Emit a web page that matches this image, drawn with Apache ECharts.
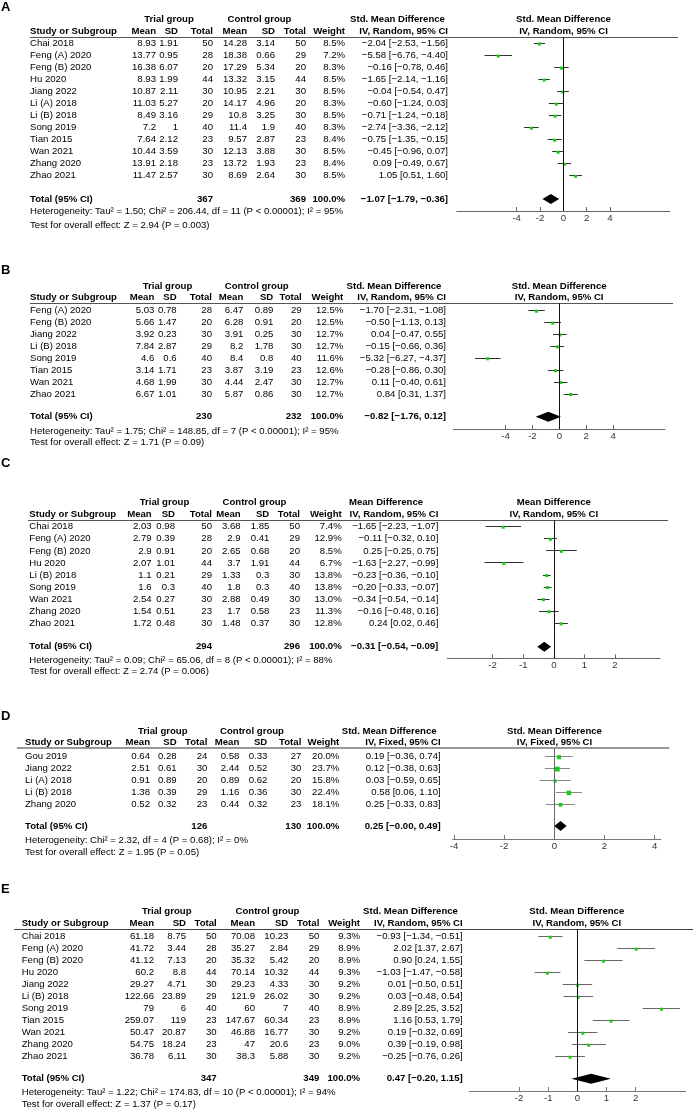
<!DOCTYPE html>
<html><head><meta charset="utf-8">
<script src="https://cdn.jsdelivr.net/npm/echarts@6/dist/echarts.min.js"></script>
<style>html,body{margin:0;padding:0;background:#fff}#c{width:695px;height:1110px}</style>
</head><body><div id="c"></div>
<script>
// ---------------- DATA ----------------
const colHeaders = ['Study or Subgroup','Mean','SD','Total','Mean','SD','Total','Weight'];
const groupHeaders = ['Trial group','Control group'];
const totalLabel = 'Total (95% CI)';

// Panel A
const A_studies = ['Chai 2018','Feng (A) 2020','Feng (B) 2020','Hu 2020','Jiang 2022','Li (A) 2018','Li (B) 2018','Song 2019','Tian 2015','Wan 2021','Zhang 2020','Zhao 2021'];
const A_trialMean = [8.93,13.77,16.38,8.93,10.87,11.03,8.49,7.2,7.64,10.44,13.91,11.47];
const A_trialSD = [1.91,0.95,6.07,1.99,2.11,5.27,3.16,1,2.12,3.59,2.18,2.57];
const A_trialN = [50,28,20,44,30,20,29,40,23,30,23,30];
const A_ctrlMean = [14.28,18.38,17.29,13.32,10.95,14.17,10.8,11.4,9.57,12.13,13.72,8.69];
const A_ctrlSD = [3.14,0.66,5.34,3.15,2.21,4.96,3.25,1.9,2.87,3.88,1.93,2.64];
const A_ctrlN = [50,29,20,44,30,20,30,40,23,30,23,30];
const A_weight = [8.5,7.2,8.3,8.5,8.5,8.3,8.5,8.3,8.4,8.5,8.4,8.5];
const A_est = [-2.04,-5.58,-0.16,-1.65,-0.04,-0.60,-0.71,-2.74,-0.75,-0.45,0.09,1.05];
const A_lo = [-2.53,-6.76,-0.78,-2.14,-0.54,-1.24,-1.24,-3.36,-1.35,-0.96,-0.49,0.51];
const A_hi = [-1.56,-4.40,0.46,-1.16,0.47,0.03,-0.18,-2.12,-0.15,0.07,0.67,1.60];
const A_totalN = [367,369];
const A_totalWeight = 100.0;
const A_totalCI = [-1.07,-1.79,-0.36];
const A_het = 'Heterogeneity: Tau² = 1.50; Chi² = 206.44, df = 11 (P < 0.00001); I² = 95%';
const A_test = 'Test for overall effect: Z = 2.94 (P = 0.003)';
const A_titles = ['Std. Mean Difference','IV, Random, 95% CI'];
const A_ticks = [-4,-2,0,2,4];

// Panel B
const B_studies = ['Feng (A) 2020','Feng (B) 2020','Jiang 2022','Li (B) 2018','Song 2019','Tian 2015','Wan 2021','Zhao 2021'];
const B_trialMean = [5.03,5.66,3.92,7.84,4.6,3.14,4.68,6.67];
const B_trialSD = [0.78,1.47,0.23,2.87,0.6,1.71,1.99,1.01];
const B_trialN = [28,20,30,29,40,23,30,30];
const B_ctrlMean = [6.47,6.28,3.91,8.2,8.4,3.87,4.44,5.87];
const B_ctrlSD = [0.89,0.91,0.25,1.78,0.8,3.19,2.47,0.86];
const B_ctrlN = [29,20,30,30,40,23,30,30];
const B_weight = [12.5,12.5,12.7,12.7,11.6,12.6,12.7,12.7];
const B_est = [-1.70,-0.50,0.04,-0.15,-5.32,-0.28,0.11,0.84];
const B_lo = [-2.31,-1.13,-0.47,-0.66,-6.27,-0.86,-0.40,0.31];
const B_hi = [-1.08,0.13,0.55,0.36,-4.37,0.30,0.61,1.37];
const B_totalN = [230,232];
const B_totalWeight = 100.0;
const B_totalCI = [-0.82,-1.76,0.12];
const B_het = 'Heterogeneity: Tau² = 1.75; Chi² = 148.85, df = 7 (P < 0.00001); I² = 95%';
const B_test = 'Test for overall effect: Z = 1.71 (P = 0.09)';
const B_titles = ['Std. Mean Difference','IV, Random, 95% CI'];
const B_ticks = [-4,-2,0,2,4];

// Panel C
const C_studies = ['Chai 2018','Feng (A) 2020','Feng (B) 2020','Hu 2020','Li (B) 2018','Song 2019','Wan 2021','Zhang 2020','Zhao 2021'];
const C_trialMean = [2.03,2.79,2.9,2.07,1.1,1.6,2.54,1.54,1.72];
const C_trialSD = [0.98,0.39,0.91,1.01,0.21,0.3,0.27,0.51,0.48];
const C_trialN = [50,28,20,44,29,40,30,23,30];
const C_ctrlMean = [3.68,2.9,2.65,3.7,1.33,1.8,2.88,1.7,1.48];
const C_ctrlSD = [1.85,0.41,0.68,1.91,0.3,0.3,0.49,0.58,0.37];
const C_ctrlN = [50,29,20,44,30,40,30,23,30];
const C_weight = [7.4,12.9,8.5,6.7,13.8,13.8,13.0,11.3,12.8];
const C_est = [-1.65,-0.11,0.25,-1.63,-0.23,-0.20,-0.34,-0.16,0.24];
const C_lo = [-2.23,-0.32,-0.25,-2.27,-0.36,-0.33,-0.54,-0.48,0.02];
const C_hi = [-1.07,0.10,0.75,-0.99,-0.10,-0.07,-0.14,0.16,0.46];
const C_totalN = [294,296];
const C_totalWeight = 100.0;
const C_totalCI = [-0.31,-0.54,-0.09];
const C_het = 'Heterogeneity: Tau² = 0.09; Chi² = 65.06, df = 8 (P < 0.00001); I² = 88%';
const C_test = 'Test for overall effect: Z = 2.74 (P = 0.006)';
const C_titles = ['Mean Difference','IV, Random, 95% CI'];
const C_ticks = [-2,-1,0,1,2];

// Panel D
const D_studies = ['Gou 2019','Jiang 2022','Li (A) 2018','Li (B) 2018','Zhang 2020'];
const D_trialMean = [0.64,2.51,0.91,1.38,0.52];
const D_trialSD = [0.28,0.61,0.89,0.39,0.32];
const D_trialN = [24,30,20,29,23];
const D_ctrlMean = [0.58,2.44,0.89,1.16,0.44];
const D_ctrlSD = [0.33,0.52,0.62,0.36,0.32];
const D_ctrlN = [27,30,20,30,23];
const D_weight = [20.0,23.7,15.8,22.4,18.1];
const D_est = [0.19,0.12,0.03,0.58,0.25];
const D_lo = [-0.36,-0.38,-0.59,0.06,-0.33];
const D_hi = [0.74,0.63,0.65,1.10,0.83];
const D_totalN = [126,130];
const D_totalWeight = 100.0;
const D_totalCI = [0.25,-0.004,0.49];
const D_het = 'Heterogeneity: Chi² = 2.32, df = 4 (P = 0.68); I² = 0%';
const D_test = 'Test for overall effect: Z = 1.95 (P = 0.05)';
const D_titles = ['Std. Mean Difference','IV, Fixed, 95% CI'];
const D_ticks = [-4,-2,0,2,4];

// Panel E
const E_studies = ['Chai 2018','Feng (A) 2020','Feng (B) 2020','Hu 2020','Jiang 2022','Li (B) 2018','Song 2019','Tian 2015','Wan 2021','Zhang 2020','Zhao 2021'];
const E_trialMean = [61.18,41.72,41.12,60.2,29.27,122.66,79,259.07,50.47,54.75,36.78];
const E_trialSD = [8.75,3.44,7.13,8.8,4.71,23.89,6,119,20.87,18.24,6.11];
const E_trialN = [50,28,20,44,30,29,40,23,30,23,30];
const E_ctrlMean = [70.08,35.27,35.32,70.14,29.23,121.9,60,147.67,46.88,47,38.3];
const E_ctrlSD = [10.23,2.84,5.42,10.32,4.33,26.02,7,60.34,16.77,20.6,5.88];
const E_ctrlN = [50,29,20,44,30,30,40,23,30,23,30];
const E_weight = [9.3,8.9,8.9,9.3,9.2,9.2,8.9,8.9,9.2,9.0,9.2];
const E_est = [-0.93,2.02,0.90,-1.03,0.01,0.03,2.89,1.16,0.19,0.39,-0.25];
const E_lo = [-1.34,1.37,0.24,-1.47,-0.50,-0.48,2.25,0.53,-0.32,-0.19,-0.76];
const E_hi = [-0.51,2.67,1.55,-0.58,0.51,0.54,3.52,1.79,0.69,0.98,0.26];
const E_totalN = [347,349];
const E_totalWeight = 100.0;
const E_totalCI = [0.47,-0.20,1.15];
const E_het = 'Heterogeneity: Tau² = 1.22; Chi² = 174.83, df = 10 (P < 0.00001); I² = 94%';
const E_test = 'Test for overall effect: Z = 1.37 (P = 0.17)';
const E_titles = ['Std. Mean Difference','IV, Random, 95% CI'];
const E_ticks = [-2,-1,0,1,2];

// ---------------- LAYOUT (positions & styles) ----------------
const FONT = '"Liberation Sans", Arial, sans-serif';
const FS = 9.6;
const TXT = '#000';
const GREEN = '#14cc14';
const LAYOUT = {
  A:{letterY:7.5,h1:19.3,h2:31.5,lineY:37,lineX1:30,lineX2:678,lineColor:'#555',lineW:1,row0:43.5,step:12.03,totalY:199,hetY:211.5,testY:225,
     cols:[30,156,178,213,247,275,306,345,448],grp:[169,259.5,397.5],plotC:563.5,axisY:211,axL:456.7,axR:670,xMin:-9.14,xMax:9.14,
     ciColor:'#333',zeroColor:'#111',axisColor:'#666',marker:()=>3},
  B:{letterY:270,h1:286,h2:297.7,lineY:303.3,lineX1:30,lineX2:673,lineColor:'#555',lineW:1,row0:310.7,step:11.9,totalY:416.7,hetY:431.7,testY:442.7,
     cols:[30,154.3,176.7,212,243.3,273.3,301.7,343.3,446],grp:[167.5,256.7,394],plotC:559.2,axisY:429,axL:453.3,axR:665,xMin:-7.88,xMax:7.85,
     ciColor:'#333',zeroColor:'#111',axisColor:'#666',marker:()=>3},
  C:{letterY:463.5,h1:502.3,h2:514.3,lineY:520,lineX1:28,lineX2:668,lineColor:'#555',lineW:1,row0:526.7,step:12.08,totalY:646.7,hetY:660,testY:671.7,
     cols:[29.3,151.7,175,212,240.7,269.3,300,341.7,438.3],grp:[164.5,254.5,386],plotC:553.8,axisY:658.3,axL:447.3,axR:660,xMin:-3.48,xMax:3.47,
     ciColor:'#333',zeroColor:'#111',axisColor:'#666',marker:()=>3},
  D:{letterY:716,h1:731,h2:742.7,lineY:748.3,lineX1:17,lineX2:669.3,lineColor:'#999',lineW:2,row0:756.7,step:11.9,totalY:826,hetY:840.7,testY:852.3,
     cols:[25,150,176.7,207.3,239.3,267.3,301.3,339.3,440.7],grp:[162.8,252,389.2],plotC:554.5,axisY:839,axL:452.7,axR:660.7,xMin:-4.05,xMax:4.24,
     ciColor:'#888',zeroColor:'#666',axisColor:'#777',marker:(w)=>w/5},
  E:{letterY:889.5,h1:911,h2:923.3,lineY:929,lineX1:14,lineX2:693,lineColor:'#444',lineW:1,row0:936.7,step:12,totalY:1078.7,hetY:1092.7,testY:1104.7,
     cols:[21.7,154,186,216.7,255,288.3,319.3,360,462.7],grp:[166.7,267.5,410.5],plotC:576.8,axisY:1091,axL:469.3,axR:685.7,xMin:-3.71,xMax:3.72,
     ciColor:'#666',zeroColor:'#111',axisColor:'#777',marker:()=>3}
};

// ---------------- BUILD ----------------
const PANELS = [
  {key:'A',studies:A_studies,tM:A_trialMean,tSD:A_trialSD,tN:A_trialN,cM:A_ctrlMean,cSD:A_ctrlSD,cN:A_ctrlN,w:A_weight,est:A_est,lo:A_lo,hi:A_hi,totN:A_totalN,totW:A_totalWeight,totCI:A_totalCI,het:A_het,test:A_test,titles:A_titles,ticks:A_ticks},
  {key:'B',studies:B_studies,tM:B_trialMean,tSD:B_trialSD,tN:B_trialN,cM:B_ctrlMean,cSD:B_ctrlSD,cN:B_ctrlN,w:B_weight,est:B_est,lo:B_lo,hi:B_hi,totN:B_totalN,totW:B_totalWeight,totCI:B_totalCI,het:B_het,test:B_test,titles:B_titles,ticks:B_ticks},
  {key:'C',studies:C_studies,tM:C_trialMean,tSD:C_trialSD,tN:C_trialN,cM:C_ctrlMean,cSD:C_ctrlSD,cN:C_ctrlN,w:C_weight,est:C_est,lo:C_lo,hi:C_hi,totN:C_totalN,totW:C_totalWeight,totCI:C_totalCI,het:C_het,test:C_test,titles:C_titles,ticks:C_ticks},
  {key:'D',studies:D_studies,tM:D_trialMean,tSD:D_trialSD,tN:D_trialN,cM:D_ctrlMean,cSD:D_ctrlSD,cN:D_ctrlN,w:D_weight,est:D_est,lo:D_lo,hi:D_hi,totN:D_totalN,totW:D_totalWeight,totCI:D_totalCI,het:D_het,test:D_test,titles:D_titles,ticks:D_ticks},
  {key:'E',studies:E_studies,tM:E_trialMean,tSD:E_trialSD,tN:E_trialN,cM:E_ctrlMean,cSD:E_ctrlSD,cN:E_ctrlN,w:E_weight,est:E_est,lo:E_lo,hi:E_hi,totN:E_totalN,totW:E_totalWeight,totCI:E_totalCI,het:E_het,test:E_test,titles:E_titles,ticks:E_ticks}
];

const MINUS = '\u2212';
const num = v => String(v).replace('-', MINUS);
const f2 = v => v.toFixed(2).replace('-', MINUS);
const ci = (e,l,h) => f2(e) + ' [' + f2(l) + ', ' + f2(h) + ']';

function tx(x, y, text, align, bold, size, color) {
  return {type:'text', x:x, y:y, silent:true,
    style:{text:text, align:align||'right', textAlign:align||'right', verticalAlign:'middle', textVerticalAlign:'middle',
      fill:color||TXT, fontSize:size||FS, fontFamily:FONT, fontWeight:bold?'bold':'normal'}};
}

const grids=[], xAxes=[], yAxes=[], series=[], graphics=[];

PANELS.forEach((p,k)=>{
  const L = LAYOUT[p.key];
  const n = p.studies.length;
  const totalRow = (L.totalY - L.row0) / L.step;
  const yMin = (L.lineY - L.row0) / L.step;
  const yMax = (L.axisY - L.row0) / L.step;
  const c = L.cols;

  grids.push({left:L.axL, top:L.lineY, width:L.axR-L.axL, height:L.axisY-L.lineY, containLabel:false, outerBoundsMode:'none', show:false});
  xAxes.push({type:'value', gridIndex:k, min:L.xMin, max:L.xMax, position:'bottom',
    axisLine:{show:true, onZero:false, lineStyle:{color:L.axisColor, width:1}},
    axisTick:{show:true, inside:true, length:4, customValues:p.ticks, lineStyle:{color:L.axisColor, width:1}},
    axisLabel:{show:true, customValues:p.ticks, margin:2, fontSize:FS, fontFamily:FONT, color:'#333', formatter:v=>String(v)},
    splitLine:{show:false}});
  yAxes.push({type:'value', gridIndex:k, inverse:true, min:yMin, max:yMax, show:false});

  // study estimates with CIs
  series.push({type:'custom', xAxisIndex:k, yAxisIndex:k, clip:false, silent:true,
    data:p.est.map((e,i)=>[e, i, p.lo[i], p.hi[i], p.w[i]]),
    encode:{x:0, y:1},
    renderItem:(params, api)=>{
      const row = api.value(1);
      const pl = api.coord([api.value(2), row]);
      const ph = api.coord([api.value(3), row]);
      const pe = api.coord([api.value(0), row]);
      const y = Math.floor(pe[1]) + 0.5;
      const s = L.marker(api.value(4));
      return {type:'group', children:[
        {type:'line', shape:{x1:pl[0], y1:y, x2:ph[0], y2:y}, style:{stroke:L.ciColor, lineWidth:1}},
        {type:'rect', shape:{x:pe[0]-s/2, y:pe[1]-s/2+0.5, width:s, height:s}, style:{fill:GREEN}}
      ]};
    },
    markLine:{silent:true, symbol:'none', label:{show:false}, animation:false,
      lineStyle:{color:L.zeroColor, width:1, type:'solid'}, data:[{xAxis:0}]}
  });

  // pooled diamond
  series.push({type:'custom', xAxisIndex:k, yAxisIndex:k, clip:false, silent:true,
    data:[[p.totCI[0], totalRow, p.totCI[1], p.totCI[2]]],
    encode:{x:0, y:1},
    renderItem:(params, api)=>{
      const row = api.value(1);
      const pl = api.coord([api.value(2), row]);
      const ph = api.coord([api.value(3), row]);
      const pe = api.coord([api.value(0), row]);
      const h = 5;
      return {type:'polygon', shape:{points:[[pl[0],pe[1]],[pe[0],pe[1]-h],[ph[0],pe[1]],[pe[0],pe[1]+h]]}, style:{fill:'#000'}};
    }
  });

  // table rows (text cells placed on the same row scale)
  const tableData = p.studies.map((s,i)=>[0,i]);
  tableData.push([0,totalRow]);
  series.push({type:'custom', xAxisIndex:k, yAxisIndex:k, clip:false, silent:true,
    data:tableData, encode:{x:0, y:1},
    renderItem:(params, api)=>{
      const i = params.dataIndex;
      const y = api.coord([0, api.value(1)])[1];
      let cells, bold=false;
      if (i < n) {
        cells = [[c[0], p.studies[i], 'left'], [c[1], num(p.tM[i])], [c[2], num(p.tSD[i])], [c[3], String(p.tN[i])],
                 [c[4], num(p.cM[i])], [c[5], num(p.cSD[i])], [c[6], String(p.cN[i])], [c[7], p.w[i].toFixed(1)+'%'],
                 [c[8], ci(p.est[i], p.lo[i], p.hi[i])]];
      } else {
        bold = true;
        cells = [[c[0], totalLabel, 'left'], [c[3], String(p.totN[0])], [c[6], String(p.totN[1])],
                 [c[7], p.totW.toFixed(1)+'%'], [c[8], ci(p.totCI[0], p.totCI[1], p.totCI[2])]];
      }
      return {type:'group', children:cells.map(cl=>tx(cl[0], y, cl[1], cl[2]||'right', bold))};
    }
  });

  // headers, panel letter, notes
  graphics.push(tx(1, L.letterY, p.key, 'left', true, 13, '#000'));
  graphics.push(tx(L.grp[0], L.h1, groupHeaders[0], 'center', true));
  graphics.push(tx(L.grp[1], L.h1, groupHeaders[1], 'center', true));
  graphics.push(tx(L.grp[2], L.h1, p.titles[0], 'center', true));
  graphics.push(tx(c[0], L.h2, colHeaders[0], 'left', true));
  for (let j=1;j<8;j++) graphics.push(tx(c[j], L.h2, colHeaders[j], 'right', true));
  graphics.push(tx(c[8], L.h2, p.titles[1], 'right', true));
  graphics.push(tx(L.plotC, L.h1, p.titles[0], 'center', true));
  graphics.push(tx(L.plotC, L.h2, p.titles[1], 'center', true));
  const ly = L.lineW === 1 ? Math.floor(L.lineY) + 0.5 : Math.round(L.lineY);
  graphics.push({type:'line', silent:true, shape:{x1:L.lineX1, y1:ly, x2:L.lineX2, y2:ly}, style:{stroke:L.lineColor, lineWidth:L.lineW}});
  graphics.push(tx(c[0], L.hetY, p.het, 'left', false));
  graphics.push(tx(c[0], L.testY, p.test, 'left', false));
});

const chart = echarts.init(document.getElementById('c'), null, {renderer:'canvas'});
chart.setOption({
  animation:false,
  backgroundColor:'#fff',
  grid:grids, xAxis:xAxes, yAxis:yAxes, series:series,
  graphic:{elements:graphics}
});
</script></body></html>
